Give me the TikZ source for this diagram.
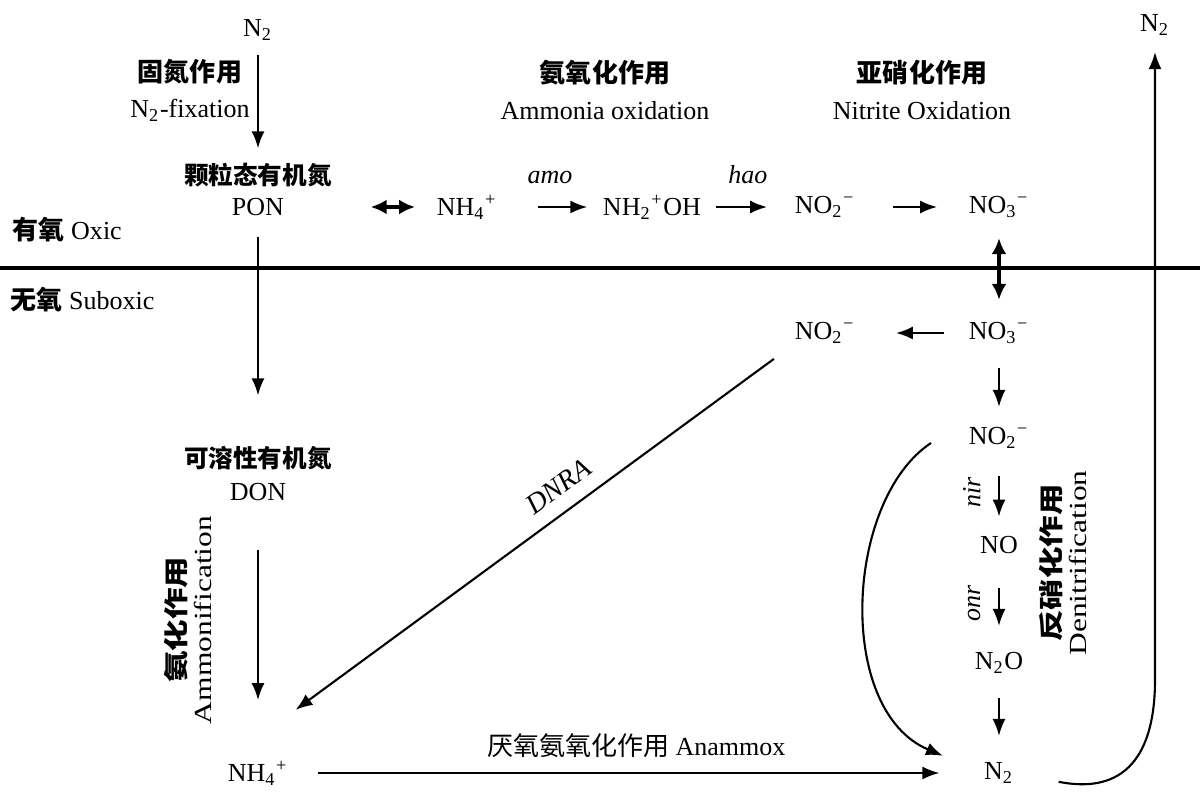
\documentclass[tikz,border=0pt]{standalone}
\usepackage{fontspec}
\setmainfont{Liberation Serif}
\newfontfamily\cjk{Noto Sans CJK SC}
\usetikzlibrary{arrows.meta}
\newcommand{\zh}{\cjk\bfseries}

\begin{document}
\begin{tikzpicture}[x=1cm,y=-1cm,
    lbl/.style={inner sep=0pt,align=center,font=\fontsize{7.4}{10.3}\selectfont},
    zhl/.style={inner sep=0pt,font=\fontsize{7}{8}\selectfont\zh},
    vlbl/.style={lbl,rotate=90,xscale=1.28,font=\fontsize{7}{7.4}\selectfont},
    arr/.style={-{Latex[length=1.7mm,width=1.3mm]},line width=0.6pt},
    dbl/.style={{Latex[length=1.6mm,width=1.5mm]}-{Latex[length=1.6mm,width=1.5mm]},line width=1.2pt},
    enz/.style={midway,above=0.22cm,inner sep=0pt,font=\fontsize{7.4}{9}\selectfont\itshape},
    enzv/.style={midway,rotate=90,anchor=south,inner sep=0pt,inner ysep=5pt,font=\fontsize{7.4}{9}\selectfont\itshape}]
  \def\xl{2.58}
  \def\xr{9.99}
  \def\yr{2.07}
  \useasboundingbox (0,0) rectangle (12,8);
  % oxic / suboxic boundary
  \draw[line width=0.9pt] (0,2.68) -- (12,2.68);
  \node[lbl,anchor=west] (oxic) at (0.12,2.30) {{\zh 有氧} Oxic};
  \node[lbl,anchor=west] (subox) at (0.10,3.00) {{\zh 无氧} Suboxic};
  % oxic layer
  \node[lbl] (n2a) at (\xl,0.30) {N\textsubscript{2}};
  \node[lbl] (fix) at (1.90,0.90) {{\zh 固氮作用}\\N\textsubscript{2}-fixation};
  \node[zhl] (ponzh) at (\xl,1.75) {颗粒态有机氮};
  \node[lbl] (pon) at (\xl,\yr) {PON};
  \node[lbl] (nh4a) at (4.67,\yr) {NH\textsubscript{4}\textsuperscript{+}};
  \node[lbl] (nh2oh) at (6.52,\yr) {NH\textsubscript{2}\textsuperscript{+}OH};
  \node[lbl] (no2a) at (8.25,\yr) {NO\textsubscript{2}\textsuperscript{−}};
  \node[lbl] (no3a) at (\xr,\yr) {NO\textsubscript{3}\textsuperscript{−}};
  \node[lbl] (amox) at (6.05,0.90) {{\zh 氨氧化作用}\\Ammonia oxidation};
  \node[lbl] (niox) at (9.22,0.90) {{\zh 亚硝化作用}\\Nitrite Oxidation};
  \node[lbl] (n2b) at (11.55,0.25) {N\textsubscript{2}};
  % suboxic layer
  \node[lbl] (no2b) at (8.25,3.33) {NO\textsubscript{2}\textsuperscript{−}};
  \node[lbl] (no3b) at (\xr,3.33) {NO\textsubscript{3}\textsuperscript{−}};
  \node[lbl] (no2c) at (\xr,4.38) {NO\textsubscript{2}\textsuperscript{−}};
  \node[lbl] (no) at (\xr,5.45) {NO};
  \node[lbl] (n2o) at (\xr,6.63) {N\textsubscript{2}O};
  \node[lbl] (n2c) at (\xr,7.73) {N\textsubscript{2}};
  \node[zhl] (donzh) at (\xl,4.58) {可溶性有机氮};
  \node[lbl] (don) at (\xl,4.92) {DON};
  \node[lbl] (nh4b) at (\xl,7.73) {NH\textsubscript{4}\textsuperscript{+}};
  \node[vlbl] (ammon) at (1.88,6.20) {{\zh 氨化作用}\\Ammonification};
  \node[vlbl] (denit) at (10.63,5.63) {{\zh 反硝化作用}\\Denitrification};
  \coordinate (arcs) at (9.31,4.43);
  % connectors
  \draw[arr,shorten <=0.14cm,shorten >=0.14cm] (n2a) -- (ponzh);
  \draw[arr,shorten <=0.21cm,shorten >=0.5cm] (pon) -- (donzh);
  \draw[arr,shorten <=0.49cm,shorten >=0.6cm] (don) -- (nh4b);
  \draw[dbl,shorten <=0.86cm,shorten >=0.21cm] (pon) -- (nh4a);
  \draw[arr,shorten <=0.40cm,shorten >=0.15cm] (nh4a) -- node[enz] {amo} (nh2oh);
  \draw[arr,shorten <=0.14cm,shorten >=0.27cm] (nh2oh) -- node[enz] {hao} (no2a);
  \draw[arr,shorten <=0.37cm,shorten >=0.31cm] (no2a) -- (no3a);
  \draw[dbl,shorten <=0.20cm,shorten >=0.22cm] (no3a) -- (no3b);
  \draw[arr,shorten <=0.24cm,shorten >=0.40cm] (no3b) -- (no2b);
  \draw[arr,shorten <=0.24cm,shorten >=0.20cm] (no3b) -- (no2c);
  \draw[arr,shorten <=0.27cm,shorten >=0.19cm] (no2c) -- node[enzv] {nir} (no);
  \draw[arr,shorten <=0.34cm,shorten >=0.26cm] (no) -- node[enzv] {onr} (n2o);
  \draw[arr,shorten <=0.24cm,shorten >=0.26cm] (n2o) -- (n2c);
  \draw[arr,shorten <=0.25cm,shorten >=0.85cm] (no2b.south west) -- node[pos=0.39,sloped,above=0.14cm,lbl,font=\fontsize{8}{9}\selectfont\itshape] {DNRA} (nh4b.north west);
  \draw[arr,shorten <=0.29cm,shorten >=0.44cm] (nh4b) -- node[midway,above=0.14cm,lbl] {{\cjk 厌氧氨氧化作用} Anammox} (n2c);
  \draw[arr,shorten >=0.44cm] (arcs) .. controls (8.45,5.0) and (8.35,7.1) .. (n2c.west);
  \draw[arr,shorten <=0.45cm,shorten >=0.16cm] (n2c.east) .. controls (11.25,7.95) and (11.55,7.55) .. (11.55,6.8) -- (n2b.south);
\end{tikzpicture}
\end{document}
